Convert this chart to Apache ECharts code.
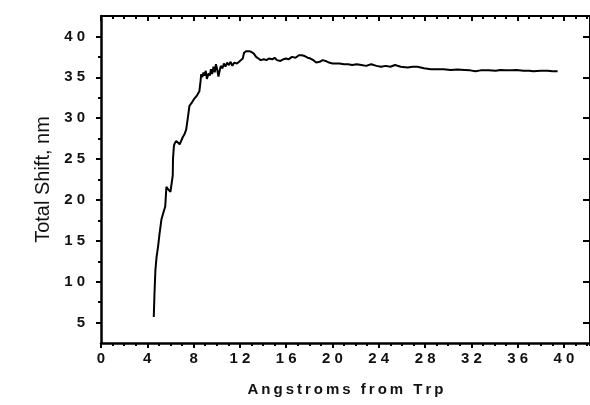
<!DOCTYPE html>
<html>
<head>
<meta charset="utf-8">
<script src="https://cdn.jsdelivr.net/npm/echarts@6/dist/echarts.min.js"></script>
<style>
  html, body { margin: 0; padding: 0; background: #fff; }
  #chart { width: 590px; height: 405px; }
</style>
</head>
<body>
<div id="chart"></div>
<script>
// Distance from the tryptophan (Å)
const distance = [
  4.56, 4.62, 4.70, 4.80, 4.93, 5.05, 5.22, 5.40, 5.55, 5.65, 5.80, 6.00, 6.16, 6.20, 6.22, 6.30,
  6.36, 6.50, 6.64, 6.80, 6.93, 7.07, 7.20, 7.36, 7.50, 7.64, 7.80, 8.07, 8.30, 8.50, 8.60, 8.66,
  8.75, 8.85, 8.93, 9.05, 9.15, 9.21, 9.30, 9.40, 9.50, 9.60, 9.72, 9.83, 9.93, 10.05, 10.15, 10.25,
  10.35, 10.50, 10.62, 10.75, 10.90, 11.05, 11.20, 11.35, 11.50, 11.60, 11.75, 11.93, 12.10, 12.25,
  12.36, 12.55, 12.80, 13.00, 13.20, 13.40, 13.60, 13.80, 14.07, 14.30, 14.50, 14.80, 15.00, 15.20,
  15.50, 15.75, 16.00, 16.20, 16.50, 16.80, 17.10, 17.35, 17.60, 17.85, 18.10, 18.35, 18.60, 18.90,
  19.15, 19.40, 19.70, 20.00, 20.20, 20.60, 21.00, 21.35, 21.70, 22.10, 22.50, 22.90, 23.35, 23.80,
  24.20, 24.60, 25.00, 25.40, 25.90, 26.50, 26.90, 27.35, 27.90, 28.50, 29.07, 29.60, 30.20, 30.80,
  31.40, 31.90, 32.35, 32.80, 33.50, 34.10, 34.50, 35.00, 35.50, 35.90, 36.50, 37.00, 37.35, 38.00,
  38.60, 39.00, 39.45
];

// Cumulative emission shift (nm)
const totalShift = [
  5.68, 8.5, 11.4, 13.0, 14.3, 15.8, 17.6, 18.5, 19.2, 21.6, 21.3, 21.0, 20.9, 23.0, 25.0, 26.6,
  26.9, 27.2, 27.0, 26.8, 26.9, 27.7, 28.0, 28.6, 30.0, 31.5, 31.8, 32.4, 32.8, 33.3, 34.5, 35.4,
  35.0, 35.6, 35.2, 35.8, 34.8, 34.7, 35.5, 35.2, 36.0, 35.4, 36.3, 35.6, 36.6, 35.9, 35.1, 35.8,
  36.4, 36.1, 36.7, 36.3, 36.8, 36.5, 36.9, 36.4, 36.8, 37.0, 36.7, 36.9, 36.8, 37.3,
  38.0, 38.2, 38.2, 38.1, 37.9, 37.5, 37.3, 37.1, 37.2, 37.1, 37.3, 37.2, 37.4, 37.1,
  37.0, 37.2, 37.3, 37.2, 37.5, 37.4, 37.7, 37.7, 37.6, 37.4, 37.3, 37.1, 36.8, 36.9,
  37.1, 37.0, 36.8, 36.7, 36.7, 36.7, 36.6, 36.6, 36.5, 36.6, 36.5, 36.4, 36.6, 36.4,
  36.3, 36.4, 36.3, 36.5, 36.3, 36.2, 36.3, 36.3, 36.1, 36.0, 36.0, 36.0, 35.9, 35.95,
  35.9, 35.85, 35.75, 35.85, 35.85, 35.8, 35.9, 35.85, 35.85, 35.9, 35.8, 35.8, 35.75, 35.8,
  35.8, 35.75, 35.75
];

// Tick positions
const xMajorTicks = [0, 4, 8, 12, 16, 20, 24, 28, 32, 36, 40];
const yMajorTicks = [5, 10, 15, 20, 25, 30, 35, 40];
const yMinorTicks = [7.5, 12.5, 17.5, 22.5, 27.5, 32.5, 37.5];

const xTitle = 'Angstroms from Trp';
const yTitle = 'Total Shift, nm';

const X_MIN = 0, X_MAX = 42.25, Y_MIN = 2.5, Y_MAX = 42.5;

// Spread characters apart
const spaced = (s, gap) => String(s).split('').join(gap);

const ink = '#000';
const labelFont = { fontFamily: 'Liberation Sans, Arial, sans-serif', fontWeight: 'bold', fontSize: 15, color: '#111' };

const hidden = { show: false };

function xAxisBase(pos) {
  return {
    type: 'value', position: pos, min: X_MIN, max: X_MAX,
    splitLine: hidden, axisLabel: hidden, axisLine: hidden, axisTick: hidden
  };
}
function yAxisBase(pos) {
  return {
    type: 'value', position: pos, min: Y_MIN, max: Y_MAX,
    splitLine: hidden, axisLabel: hidden, axisLine: hidden, axisTick: hidden
  };
}

const chart = echarts.init(document.getElementById('chart'), null, { renderer: 'canvas' });

chart.setOption({
  animation: false,
  backgroundColor: '#fff',
  grid: { left: 101, top: 16, width: 493, height: 327, containLabel: false },
  xAxis: [
    // bottom: line, major ticks, labels, title
    Object.assign(xAxisBase('bottom'), {
      axisLine: { show: true, onZero: false, lineStyle: { color: ink, width: 2.5 } },
      axisTick: { show: true, inside: false, length: 5, customValues: xMajorTicks, lineStyle: { color: ink, width: 2 } },
      axisLabel: Object.assign({ show: true, margin: 8, customValues: xMajorTicks, formatter: v => spaced(v, ' ') }, labelFont),
      name: spaced(xTitle, '\u2009'), nameLocation: 'middle', nameGap: 39,
      nameTextStyle: { fontFamily: 'Liberation Sans, Arial, sans-serif', fontWeight: 'bold', fontSize: 15, color: '#111' }
    }),
    // bottom: minor ticks
    Object.assign(xAxisBase('bottom'), {
      interval: 1,
      axisLine: { show: false, onZero: false },
      axisTick: { show: true, inside: false, length: 3, lineStyle: { color: ink, width: 2 } }
    }),
    // top frame with inward ticks
    Object.assign(xAxisBase('top'), {
      axisLine: { show: true, onZero: false, lineStyle: { color: ink, width: 2 } },
      axisTick: { show: true, inside: true, length: 5, customValues: xMajorTicks, lineStyle: { color: ink, width: 2 } }
    }),
    Object.assign(xAxisBase('top'), {
      interval: 1,
      axisLine: { show: false, onZero: false },
      axisTick: { show: true, inside: true, length: 3, lineStyle: { color: ink, width: 2 } }
    })
  ],
  yAxis: [
    // left: line, major ticks, labels, title
    Object.assign(yAxisBase('left'), {
      axisLine: { show: true, onZero: false, lineStyle: { color: ink, width: 2.5 } },
      axisTick: { show: true, inside: false, length: 5, customValues: yMajorTicks, lineStyle: { color: ink, width: 2 } },
      axisLabel: Object.assign({ show: true, margin: 16, customValues: yMajorTicks, formatter: v => spaced(v, ' ') }, labelFont),
      name: yTitle, nameLocation: 'middle', nameGap: 36, nameRotate: 90,
      nameTextStyle: { fontFamily: 'Liberation Sans, Arial, sans-serif', fontSize: 20, color: '#111' }
    }),
    // left: minor ticks
    Object.assign(yAxisBase('left'), {
      axisLine: { show: false, onZero: false },
      axisTick: { show: true, inside: false, length: 3, customValues: yMinorTicks, lineStyle: { color: ink, width: 2 } }
    }),
    // right frame with inward ticks
    Object.assign(yAxisBase('right'), {
      axisLine: { show: true, onZero: false, lineStyle: { color: ink, width: 2 } },
      axisTick: { show: true, inside: true, length: 7, customValues: yMajorTicks, lineStyle: { color: ink, width: 2 } }
    })
  ],
  series: [{
    type: 'line',
    xAxisIndex: 0,
    yAxisIndex: 0,
    data: distance.map((d, i) => [d, totalShift[i]]),
    showSymbol: false,
    symbol: 'none',
    lineStyle: { color: ink, width: 2 },
    z: 5
  }]
});
</script>
</body>
</html>
